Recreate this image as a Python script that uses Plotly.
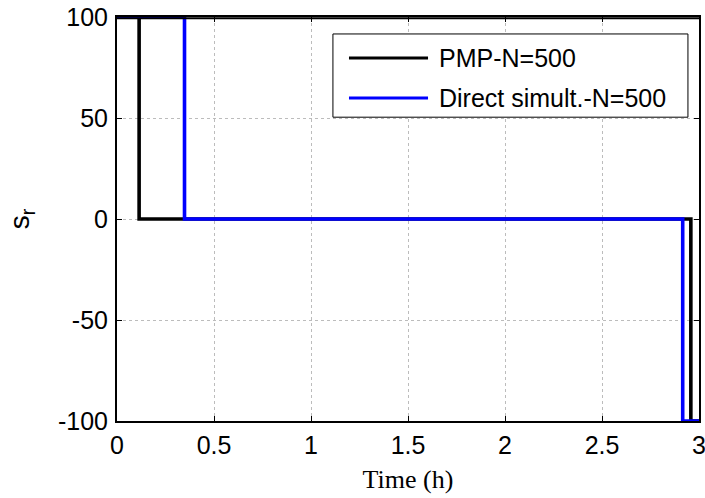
import plotly.graph_objects as go

# Switching function s_r over time (h) for the two solution methods
pmp_time = [0.0, 0.114, 2.958, 3.0]
pmp_sr = [100, 0, -100, -100]

direct_time = [0.0, 0.348, 2.916, 3.0]
direct_sr = [100, 0, -100, -100]

series_names = ["PMP-N=500", "Direct simult.-N=500"]
series_colors = ["#000000", "#0000ff"]

x_ticks = [0, 0.5, 1, 1.5, 2, 2.5, 3]
x_ticklabels = ["0", "0.5", "1", "1.5", "2", "2.5", "3"]
y_ticks = [-100, -50, 0, 50, 100]
y_ticklabels = ["-100", "-50", "0", "50", "100"]

SANS = "Liberation Sans, Arial, sans-serif"
SERIF = "Liberation Serif, Times New Roman, serif"

PLOT_H = 498 - 17 - 77  # plot area height in px

fig = go.Figure()
for t, s, name, color in [
    (pmp_time, pmp_sr, series_names[0], series_colors[0]),
    (direct_time, direct_sr, series_names[1], series_colors[1]),
]:
    fig.add_trace(go.Scatter(
        x=t, y=s, name=name, mode="lines",
        line=dict(color=color, width=3.6, shape="hv"),
        showlegend=False,
    ))

axis_common = dict(
    showline=True, linecolor="black", linewidth=2, mirror="ticks",
    ticks="inside", ticklen=5, tickcolor="black", tickwidth=1,
    showgrid=True, gridcolor="#bcbcbc", griddash="dot", gridwidth=1,
    zeroline=False, tickfont=dict(family=SANS, size=25, color="black"),
    ticklabeloverflow="allow",
)

fig.update_xaxes(
    range=[0, 3], tickmode="array", tickvals=x_ticks, ticktext=x_ticklabels,
    title=dict(text="Time (h)", font=dict(family=SERIF, size=26, color="black"), standoff=12),
    ticklabelstandoff=1,
    **axis_common,
)
fig.update_yaxes(
    range=[-100, 100], tickmode="array", tickvals=y_ticks, ticktext=y_ticklabels,
    title=dict(text="s<sub>r</sub>", font=dict(family=SANS, size=28, color="black"), standoff=20),
    ticklabelstandoff=2,
    **axis_common,
)

# Frame edge along the top, drawn over the traces just inside the plot area
top_edge = 1 - 1.2 / PLOT_H
shapes = [dict(type="line", xref="paper", yref="paper", x0=0, x1=1, y0=top_edge, y1=top_edge,
               line=dict(color="black", width=2), layer="above")]

# Boxed legend with long line samples, placed in the upper right of the axes
lx0, lx1, ly0, ly1 = 0.371, 0.981, 0.752, 0.958
shapes.append(dict(type="rect", xref="paper", yref="paper", x0=lx0, x1=lx1, y0=ly0, y1=ly1,
                   line=dict(color="black", width=1), fillcolor="white", layer="above"))
annotations = []
for name, color, yrow in zip(series_names, series_colors, [0.8985, 0.7995]):
    shapes.append(dict(type="line", xref="paper", yref="paper", x0=0.3986, x1=0.5344,
                       y0=yrow, y1=yrow, line=dict(color=color, width=3), layer="above"))
    annotations.append(dict(xref="paper", yref="paper", x=0.5498, y=yrow, text=name,
                            showarrow=False, xanchor="left", yanchor="middle",
                            font=dict(family=SANS, size=25, color="black")))

fig.update_layout(
    width=705, height=498,
    margin=dict(l=117, r=6, t=17, b=77, autoexpand=False),
    paper_bgcolor="white", plot_bgcolor="white",
    shapes=shapes, annotations=annotations,
    showlegend=False,
)

fig.write_html("out.html")
